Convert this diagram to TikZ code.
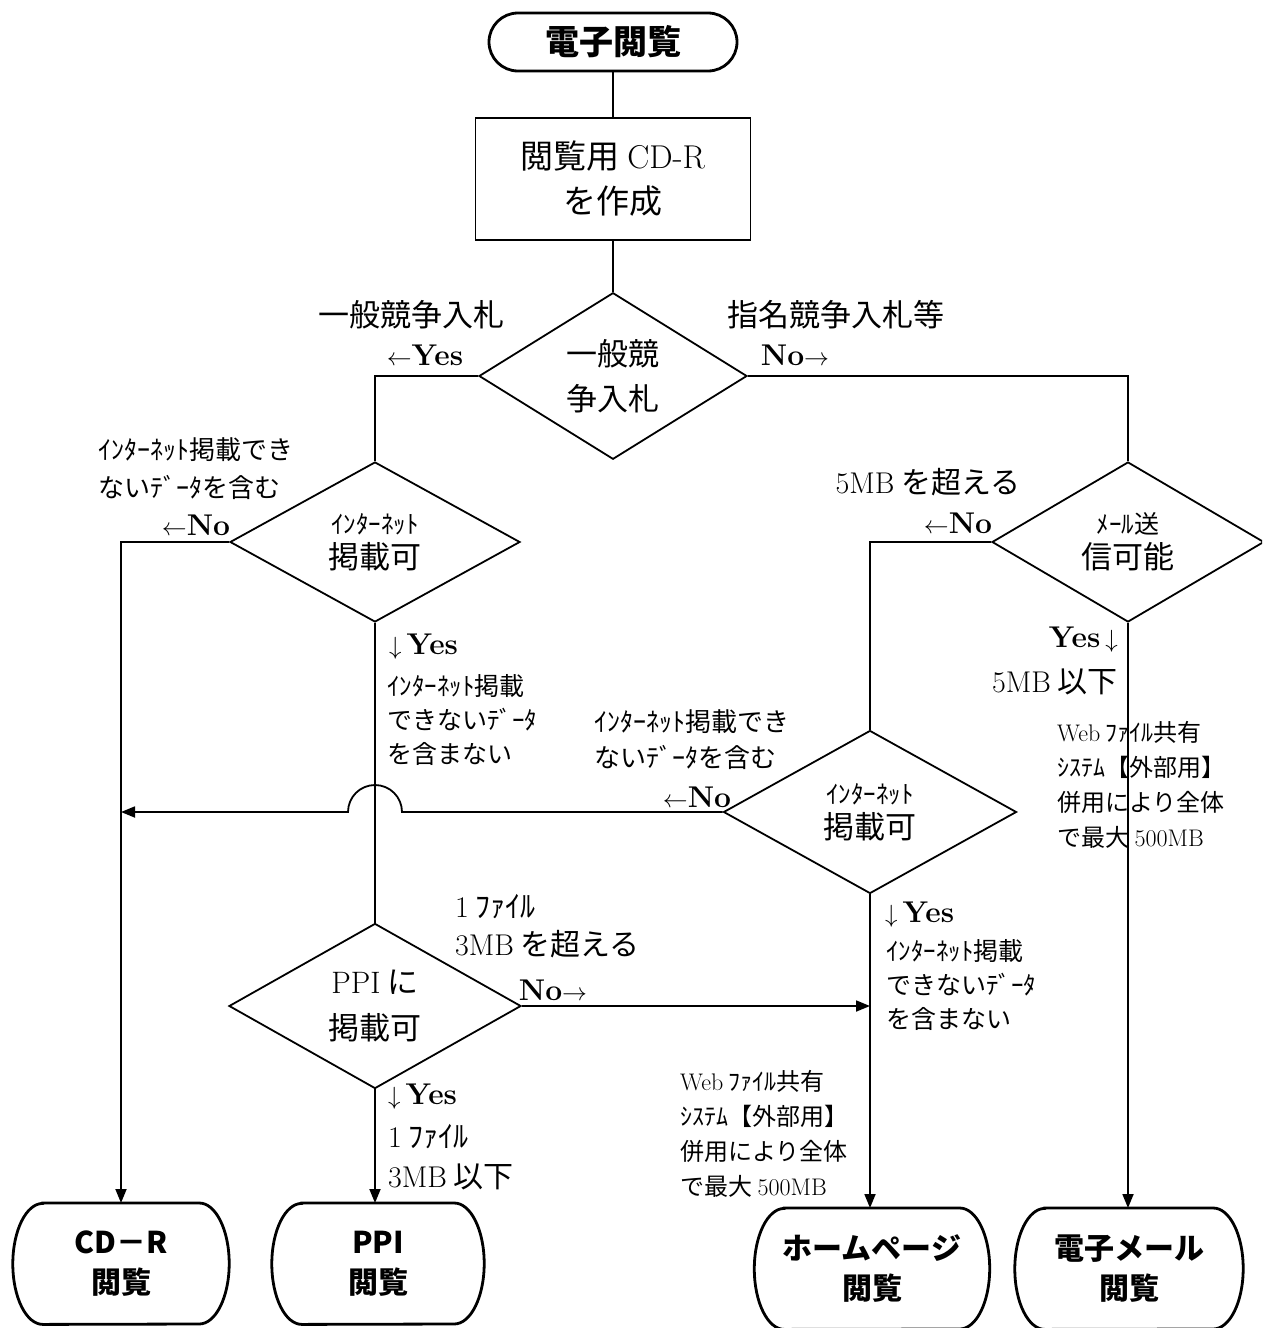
\documentclass[tikz,border=0pt]{standalone}
\usepackage{fontspec}
\usetikzlibrary{arrows.meta,shapes.geometric}
\newfontfamily\J{Noto Sans CJK JP}
\newcommand\FS[2]{\fontsize{#1}{#2}\selectfont}
\newcommand\Lt[1]{{\rmfamily #1}}
\begin{document}
\begin{tikzpicture}[x=1pt,y=-1pt,
  line/.style={line width=1.8pt},
  arr/.style={line width=1.8pt,-{Triangle[length=14pt,width=11pt]}},
  dia/.style={diamond,draw,line width=1.8pt,inner sep=0pt,align=center,font=\J},
  term/.style={rectangle,rounded corners=29pt,draw,line width=2.8pt,minimum width=248pt,minimum height=58pt,font=\J\bfseries\FS{34}{40}},
  proc/.style={rectangle,draw,line width=1.5pt,minimum width=275pt,minimum height=122pt,align=center,font=\J\FS{33}{45}},
  endn/.style={rectangle,minimum height=121pt,anchor=north,align=center,font=\J\bfseries\FS{30}{40}},
  endline/.style={line width=2.8pt},
  lab/.style={inner sep=0pt,font=\J,align=left},
  yn/.style={inner sep=0pt,font=\FS{30}{34}},
]
\useasboundingbox (0,0) rectangle (1262,1328);
\clip (0,0) rectangle (1262,1328);

% nodes
\node[term] (start) at (613,42) {電子閲覧};
\node[proc] (mk) at (613,179) {閲覧用 \Lt{CD-R}\\を作成};
\node[dia,minimum width=268pt,minimum height=162pt,font=\J\FS{31}{45}] (d1) at (613,376) {一般競\\争入札};
\node[dia,minimum width=290pt,minimum height=160pt] (d2) at (375,542) {\FS{25}{30}ｲﾝﾀｰﾈｯﾄ\\[6pt]\FS{31}{36}掲載可};
\node[dia,minimum width=272pt,minimum height=160pt] (d3) at (1128,542) {\FS{25}{30}ﾒｰﾙ送\\[6pt]\FS{31}{36}信可能};
\node[dia,minimum width=293pt,minimum height=163pt] (d4) at (870,812) {\FS{25}{30}ｲﾝﾀｰﾈｯﾄ\\[6pt]\FS{31}{36}掲載可};
\node[dia,minimum width=292pt,minimum height=163pt,font=\J\FS{31}{46}] (d5) at (375,1006) {\Lt{PPI} に\\掲載可};

\node[endn,minimum width=216pt] (cdr) at (121,1203) {CD－R\\閲覧};
\node[endn,minimum width=212pt] (ppi) at (378,1203) {PPI\\閲覧};
\node[endn,minimum width=235pt] (home) at (872,1208) {ホームページ\\閲覧};
\node[endn,minimum width=228pt] (mail) at (1129,1208) {電子メール\\閲覧};
\foreach \n in {cdr,ppi,home,mail}{
  \draw[endline] ([xshift=30pt]\n.north west) -- ([xshift=-30pt]\n.north east)
    arc[start angle=90,end angle=0,x radius=30pt,y radius=60.5pt]
    arc[start angle=0,end angle=-90,x radius=30pt,y radius=60.5pt]
    -- ([xshift=30pt]\n.south west)
    arc[start angle=-90,end angle=-180,x radius=30pt,y radius=60.5pt]
    arc[start angle=180,end angle=90,x radius=30pt,y radius=60.5pt] -- cycle;
}

% connectors
\draw[line] (start) -- (mk);
\draw[line] (mk) -- (d1);
\draw[line] (d1.west) -| (d2.north);
\draw[line] (d1.east) -| (d3.north);
\draw[arr] (d2.west) -| (cdr.north);
\draw[line] (d2.south) -- (d5.north);
\draw[line] (d3.west) -| (d4.north);
\draw[arr] (d3.south) -- (d3.south |- mail.north);
\coordinate (hop) at (d2.south |- d4.west);
\coordinate (j1) at (cdr.north |- d4.west);
\draw[arr] (d4.west) -- ([xshift=27pt]hop) arc[start angle=0,end angle=180,radius=27pt] -- (j1);
\draw[arr] (d4.south) -- (d4.south |- home.north);
\draw[arr] (d5.east) -- (d5.east -| d4.south);
\draw[arr] (d5.south) -- (d5.south |- ppi.north);

% labels
\node[lab,font=\J\FS{31}{36}] (t1) at (411,315) {一般競争入札};
\node[yn] (t2) at (425,355) {$\leftarrow$\textbf{Yes}};
\node[lab,font=\J\FS{31}{36}] (t3) at (836,315) {指名競争入札等};
\node[yn] (t4) at (795,355) {\textbf{No}$\rightarrow$};

\node[lab,font=\J\FS{26}{38},anchor=west] (t5) at (98,469) {ｲﾝﾀｰﾈｯﾄ掲載でき\\ないﾃﾞｰﾀを含む};
\node[yn] (t6) at (196,525) {$\leftarrow$\textbf{No}};
\node[yn,anchor=west] (t7) at (389,647) {$\downarrow$\,\textbf{Yes}};
\node[lab,font=\J\FS{25}{34},anchor=west] (t8) at (387,720) {ｲﾝﾀｰﾈｯﾄ掲載\\できないﾃﾞｰﾀ\\を含まない};

\node[lab,font=\J\FS{30}{36}] (t9) at (928,482) {\Lt{5MB} を超える};
\node[yn] (t10) at (958,523) {$\leftarrow$\textbf{No}};
\node[yn,anchor=east] (t11) at (1118,640) {\textbf{Yes}\,$\downarrow$};
\node[lab,font=\J\FS{30}{36},anchor=east] (t12) at (1118,682) {\Lt{5MB} 以下};
\node[lab,font=\J\FS{24}{35},anchor=west] (t13) at (1057,785) {\Lt{Web} ﾌｧｲﾙ共有\\ｼｽﾃﾑ【外部用】\\併用により全体\\で最大 \Lt{500MB}};

\node[lab,font=\J\FS{26}{36},anchor=west] (t14) at (594,740) {ｲﾝﾀｰﾈｯﾄ掲載でき\\ないﾃﾞｰﾀを含む};
\node[yn] (t15) at (697,797) {$\leftarrow$\textbf{No}};
\node[yn,anchor=west] (t16) at (885,915) {$\downarrow$\,\textbf{Yes}};
\node[lab,font=\J\FS{25}{34},anchor=west] (t17) at (886,985) {ｲﾝﾀｰﾈｯﾄ掲載\\できないﾃﾞｰﾀ\\を含まない};

\node[lab,font=\J\FS{30}{38},anchor=west] (t18) at (455,926) {\Lt{1} ﾌｧｲﾙ\\\Lt{3MB} を超える};
\node[yn] (t19) at (553,990) {\textbf{No}$\rightarrow$};
\node[yn,anchor=west] (t20) at (388,1097) {$\downarrow$\,\textbf{Yes}};
\node[lab,font=\J\FS{30}{40},anchor=west] (t21) at (388,1157) {\Lt{1} ﾌｧｲﾙ\\\Lt{3MB} 以下};
\node[lab,font=\J\FS{24}{35},anchor=west] (t22) at (680,1134) {\Lt{Web} ﾌｧｲﾙ共有\\ｼｽﾃﾑ【外部用】\\併用により全体\\で最大 \Lt{500MB}};
\end{tikzpicture}
\end{document}
